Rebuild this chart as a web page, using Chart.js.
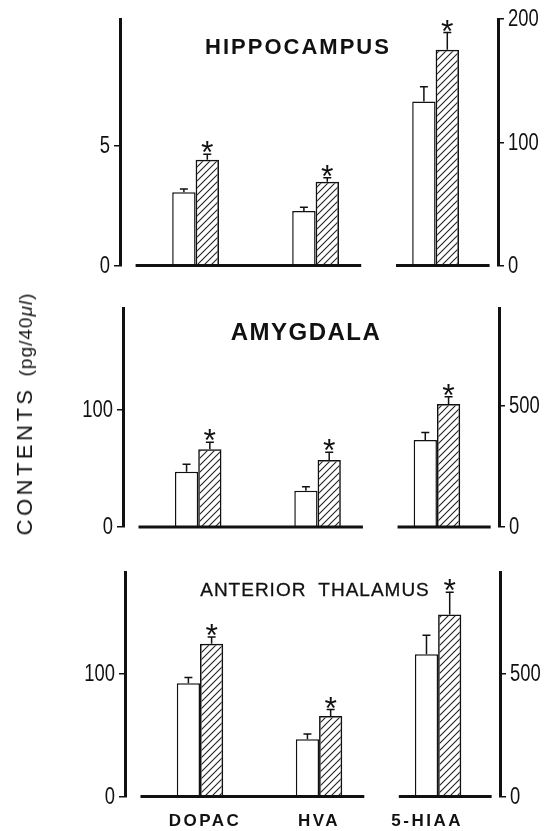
<!DOCTYPE html>
<html>
<head>
<meta charset="utf-8">
<script src="https://cdn.jsdelivr.net/npm/chart.js@4"></script>
<style>
  body { margin: 0; background: #fff; }
  #fig { position: relative; width: 558px; height: 831px; overflow: hidden; }
  #fig canvas { position: absolute; left: 0; }
  .txt {
    position: absolute; color: #111; white-space: nowrap;
    transform: translate(-50%, -50%);
    font-family: 'Liberation Sans', Arial, sans-serif;
  }
  .ytitle { transform: translate(-50%, -50%) rotate(-90deg); }
  .ytitle .ct { font-size: 22px; letter-spacing: 3.5px; }
  .ytitle .unit { font-size: 19px; letter-spacing: 1px; margin-left: 10px; }
</style>
</head>
<body>
<div id="fig">
  <canvas id="hippo" width="558" height="280" style="top:0"></canvas>
  <canvas id="amyg" width="558" height="280" style="top:280px"></canvas>
  <canvas id="thal" width="558" height="271" style="top:560px"></canvas>

  <div class="txt" style="left:298px;top:47px;font-size:22px;font-weight:bold;letter-spacing:2px">HIPPOCAMPUS</div>
  <div class="txt" style="left:306px;top:332px;font-size:24px;font-weight:bold;letter-spacing:1.5px">AMYGDALA</div>
  <div class="txt" style="left:315px;top:590px;font-size:19px;letter-spacing:1px;word-spacing:6px;-webkit-text-stroke:0.3px #111">ANTERIOR THALAMUS</div>
  <div class="txt ytitle" style="left:25px;top:414px"><span class="ct">CONTENTS</span><span class="unit">(pg/40<i>μl</i>)</span></div>
</div>

<script>
// Metabolite groups; DOPAC and HVA use the left axis, 5-HIAA the right one
const groups = ['DOPAC', 'HVA', '5-HIAA'];

// Hippocampus (mean and SEM, pg/40ul)
const hippoControl = [3.05, 2.27, 133];
const hippoControlErr = [0.14, 0.16, 12];
const hippoTreated = [4.41, 3.49, 175];
const hippoTreatedErr = [0.22, 0.17, 14];
const hippoLeftTicks = [0, 5];
const hippoRightTicks = [0, 100, 200];
const hippoMax = [10.27, 200];

// Amygdala
const amygControl = [47, 30.8, 360];
const amygControlErr = [6.3, 3.4, 30];
const amygTreated = [66, 56.9, 508];
const amygTreatedErr = [6, 6.6, 30];
const amygLeftTicks = [0, 100];
const amygRightTicks = [0, 500];
const amygMax = [186, 905];

// Anterior thalamus
const thalControl = [92.4, 46.7, 578];
const thalControlErr = [4.6, 4.3, 78];
const thalTreated = [124.5, 65.7, 740];
const thalTreatedErr = [5.5, 5.2, 91];
const thalLeftTicks = [0, 100];
const thalRightTicks = [0, 500];
const thalMax = [183, 913];

const INK = '#111';
const TICK_LEN = 6;
const TICK_PAD = 4;
// group names sit a little off their bar pairs
const labelNudge = [5, 0, -11];

// diagonal hatch for the treated bars
function makeHatch() {
    const c = document.createElement('canvas');
    c.width = c.height = 7;
    const g = c.getContext('2d');
    g.strokeStyle = '#222';
    g.lineWidth = 1.1;
    g.beginPath();
    g.moveTo(0, 7); g.lineTo(7, 0);
    g.moveTo(-1, 1); g.lineTo(1, -1);
    g.moveTo(6, 8); g.lineTo(8, 6);
    g.stroke();
    return g.createPattern(c, 'repeat');
}
const hatch = makeHatch();

// error bars (upper half only) plus the significance asterisk
const errorBars = {
    id: 'errorBars',
    afterDatasetsDraw(chart) {
        const ctx = chart.ctx;
        chart.data.datasets.forEach((ds, i) => {
            const meta = chart.getDatasetMeta(i);
            const scale = chart.scales[ds.yAxisID];
            meta.data.forEach((bar, j) => {
                const top = scale.getPixelForValue(ds.data[j].y + ds.errors[j]);
                ctx.save();
                ctx.strokeStyle = INK;
                ctx.lineWidth = 1.5;
                ctx.beginPath();
                ctx.moveTo(bar.x, bar.y);
                ctx.lineTo(bar.x, top);
                ctx.moveTo(bar.x - 4, top);
                ctx.lineTo(bar.x + 4, top);
                ctx.stroke();
                if (ds.starred) {
                    ctx.fillStyle = INK;
                    ctx.font = "32px 'Liberation Sans', sans-serif";
                    ctx.textAlign = 'center';
                    ctx.textBaseline = 'alphabetic';
                    ctx.fillText('*', bar.x, top + 9);
                }
                ctx.restore();
            });
        });
    }
};

// the two broken baselines under the bar groups
const baselines = {
    id: 'baselines',
    afterDatasetsDraw(chart) {
        const { ctx, scales } = chart;
        const y = scales.y.getPixelForValue(0);
        ctx.save();
        ctx.strokeStyle = INK;
        ctx.lineWidth = 3;
        [[-0.5, 1.38], [1.67, 2.45]].forEach(([a, b]) => {
            ctx.beginPath();
            ctx.moveTo(scales.x.getPixelForValue(a), y);
            ctx.lineTo(scales.x.getPixelForValue(b), y);
            ctx.stroke();
        });
        ctx.restore();
    }
};

// narrow tick numbers and spaced-out group names
const axisText = {
    id: 'axisText',
    afterDraw(chart) {
        const ctx = chart.ctx;
        ctx.save();
        ctx.fillStyle = INK;
        ctx.font = "23px 'Liberation Sans', sans-serif";
        ctx.textBaseline = 'middle';
        ['y', 'y2'].forEach(id => {
            const s = chart.scales[id];
            const isLeft = s.position === 'left';
            s.ticks.forEach(t => {
                const x = isLeft ? s.right - TICK_LEN - TICK_PAD : s.left + TICK_LEN + TICK_PAD;
                ctx.save();
                ctx.translate(x, s.getPixelForValue(t.value));
                ctx.scale(0.8, 1);
                ctx.textAlign = isLeft ? 'right' : 'left';
                ctx.fillText(String(t.value), 0, 1);
                ctx.restore();
            });
        });
        const xs = chart.scales.x;
        if (xs.options.display) {
            ctx.font = "bold 17px 'Liberation Sans', sans-serif";
            ctx.letterSpacing = '2.5px';
            ctx.textAlign = 'center';
            xs.ticks.forEach((t, i) => {
                ctx.fillText(groups[i], xs.getPixelForValue(t.value) + labelNudge[i], xs.top + 25);
            });
        }
        ctx.restore();
    }
};

function makeDatasets(control, controlErr, treated, treatedErr) {
    const left = [0, 1], right = [2];
    const pts = (vals, idx) => idx.map(i => ({ x: i, y: vals[i] }));
    const pick = (vals, idx) => idx.map(i => vals[i]);
    const base = {
        borderColor: INK, borderWidth: 1.5, skipNull: true,
        categoryPercentage: 0.39, barPercentage: 1
    };
    return [
        { ...base, label: 'control', yAxisID: 'y', backgroundColor: '#fff',
          data: pts(control, left), errors: pick(controlErr, left) },
        { ...base, label: 'treated', yAxisID: 'y', backgroundColor: hatch, starred: true,
          data: pts(treated, left), errors: pick(treatedErr, left) },
        { ...base, label: 'control', yAxisID: 'y2', backgroundColor: '#fff',
          data: pts(control, right), errors: pick(controlErr, right) },
        { ...base, label: 'treated', yAxisID: 'y2', backgroundColor: hatch, starred: true,
          data: pts(treated, right), errors: pick(treatedErr, right) }
    ];
}

function valueAxis(position, max, ticks, width) {
    return {
        type: 'linear', position, min: 0, max,
        afterBuildTicks: s => { s.ticks = ticks.map(v => ({ value: v })); },
        afterFit: s => { s.width = width; },
        grid: { drawOnChartArea: false, drawTicks: true, tickLength: TICK_LEN, color: INK, lineWidth: 1.5 },
        border: { display: true, color: INK, width: 3 },
        ticks: { display: false }
    };
}

function panel(id, p) {
    const canvas = document.getElementById(id);
    const showX = !!p.showLabels;
    return new Chart(canvas, {
        type: 'bar',
        data: { datasets: makeDatasets(p.control, p.controlErr, p.treated, p.treatedErr) },
        options: {
            responsive: false,
            animation: false,
            layout: { padding: { top: p.areaTop, bottom: showX ? 0 : canvas.height - p.areaBottom, left: 0, right: 0 } },
            plugins: { legend: { display: false }, tooltip: { enabled: false } },
            scales: {
                x: {
                    type: 'linear', min: -0.63, max: 2.52, offset: false,
                    display: showX,
                    afterBuildTicks: s => { s.ticks = groups.map((g, i) => ({ value: i })); },
                    afterFit: s => { if (showX) s.height = canvas.height - p.areaBottom; },
                    grid: { display: false, drawTicks: false },
                    border: { display: false },
                    ticks: { display: false }
                },
                y: valueAxis('left', p.max[0], p.leftTicks, p.left),
                y2: valueAxis('right', p.max[1], p.rightTicks, canvas.width - p.right)
            }
        },
        plugins: [baselines, errorBars, axisText]
    });
}

panel('hippo', {
    control: hippoControl, controlErr: hippoControlErr,
    treated: hippoTreated, treatedErr: hippoTreatedErr,
    leftTicks: hippoLeftTicks, rightTicks: hippoRightTicks, max: hippoMax,
    left: 120, right: 498, areaTop: 19, areaBottom: 265.5
});
panel('amyg', {
    control: amygControl, controlErr: amygControlErr,
    treated: amygTreated, treatedErr: amygTreatedErr,
    leftTicks: amygLeftTicks, rightTicks: amygRightTicks, max: amygMax,
    left: 123, right: 499, areaTop: 28, areaBottom: 247
});
panel('thal', {
    control: thalControl, controlErr: thalControlErr,
    treated: thalTreated, treatedErr: thalTreatedErr,
    leftTicks: thalLeftTicks, rightTicks: thalRightTicks, max: thalMax,
    left: 125, right: 500, areaTop: 12, areaBottom: 236.5, showLabels: true
});
</script>
</body>
</html>
